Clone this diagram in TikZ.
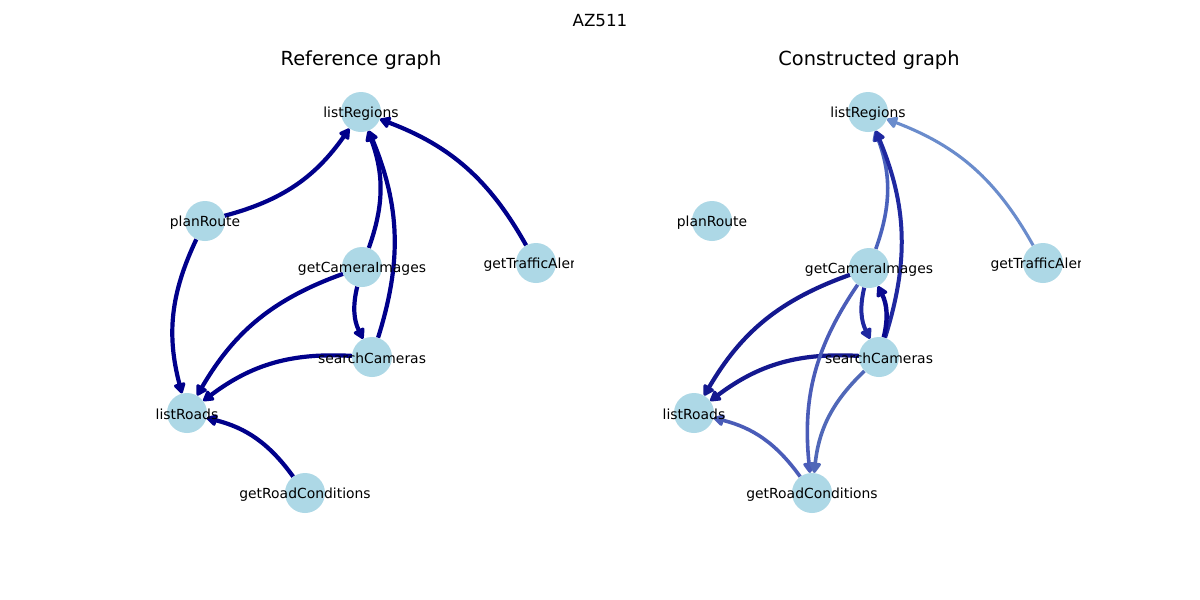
\documentclass[tikz,border=0pt]{standalone}
\usepackage{fontspec}
\setmainfont{DejaVu Sans}
\usetikzlibrary{arrows.meta}
\pgfdeclarelayer{bg}
\pgfsetlayers{bg,main}
\definecolor{nodeblue}{HTML}{ADD8E6}
\definecolor{refedge}{HTML}{00008B}
\definecolor{cA}{HTML}{6A8CCC}
\definecolor{cB}{HTML}{4A62BC}
\definecolor{cC}{HTML}{1F28A0}
\definecolor{cD}{HTML}{0A0A90}
\definecolor{cE}{HTML}{14188F}
\definecolor{cF}{HTML}{4A5CB8}
\definecolor{cG}{HTML}{5068B8}
\begin{document}
\begin{tikzpicture}[x=1pt,y=-1pt,
  vertex/.style={circle,fill=nodeblue,minimum size=40pt,inner sep=0pt},
  lbl/.style={font=\fontsize{13.9}{16}\selectfont,text=black,inner sep=0pt,yshift=-1.5pt},
  ttl/.style={font=\fontsize{19.4}{22}\selectfont,text=black,inner sep=0pt,yshift=-2pt},
  edge/.style={line width=#1, -{Triangle[length=12pt,width=13pt,round]}, bend right=20},
  edge/.default=4.2pt]
\useasboundingbox (0,0) rectangle (1200,600);
\node[font=\fontsize{16.7}{19}\selectfont,inner sep=0pt,yshift=-1pt] (sup) at (600,20) {AZ511};
\node[ttl] (t1) at (361,58) {Reference graph};
\node[ttl] (t2) at (869,58) {Constructed graph};
% left graph
\node[vertex] (LlR) at (361,112) {};
\node[vertex] (LpR) at (205,221) {};
\node[vertex] (LgC) at (362,267) {};
\node[vertex] (LgT) at (536,263) {};
\node[vertex] (LsC) at (372,357) {};
\node[vertex] (LlRd) at (187,413) {};
\node[vertex] (LgR) at (305,493) {};
% right graph
\node[vertex] (RlR) at (868,112) {};
\node[vertex] (RpR) at (712,221) {};
\node[vertex] (RgC) at (869,268) {};
\node[vertex] (RgT) at (1043,263) {};
\node[vertex] (RsC) at (879,357) {};
\node[vertex] (RlRd) at (694,413) {};
\node[vertex] (RgR) at (812,493) {};
\begin{pgfonlayer}{bg}
\fill[white] (0,0) rectangle (1200,600);
\begin{scope}[refedge]
\draw[edge] (LpR) to (LlR);
\draw[edge] (LpR) to (LlRd);
\draw[edge] (LgC) to (LlR);
\draw[edge] (LsC) to (LlR);
\draw[edge] (LgT) to (LlR);
\draw[edge] (LgC) to (LsC);
\draw[edge] (LgC) to (LlRd);
\draw[edge] (LsC) to (LlRd);
\draw[edge] (LgR) to (LlRd);
\end{scope}
\draw[edge=3.1pt,cA] (RgT) to (RlR);
\draw[edge=3.6pt,cB] (RgC) to (RlR);
\draw[edge=4pt,cC] (RsC) to (RlR);
\draw[edge=4pt,cC] (RgC) to (RsC);
\draw[edge=4.4pt,cD] (RsC) to (RgC);
\draw[edge=4.2pt,cE] (RgC) to (RlRd);
\draw[edge=4.2pt,cE] (RsC) to (RlRd);
\draw[edge=3.6pt,cF] (RgC) to (RgR);
\draw[edge=3.6pt,cG] (RsC) to (RgR);
\draw[edge=3.6pt,cF] (RgR) to (RlRd);
\end{pgfonlayer}
% labels
\node[lbl] at (LlR) {listRegions};
\node[lbl] at (LpR) {planRoute};
\node[lbl] at (LgC) {getCameraImages};
\node[lbl] at (LsC) {searchCameras};
\node[lbl] at (LlRd) {listRoads};
\node[lbl] at (LgR) {getRoadConditions};
\node[lbl] at (RlR) {listRegions};
\node[lbl] at (RpR) {planRoute};
\node[lbl] at (RgC) {getCameraImages};
\node[lbl] at (RsC) {searchCameras};
\node[lbl] at (RlRd) {listRoads};
\node[lbl] at (RgR) {getRoadConditions};
\begin{scope}
\clip (0,0) rectangle (573,600);
\node[lbl] at (LgT) {getTrafficAlerts};
\end{scope}
\begin{scope}
\clip (600,0) rectangle (1080,600);
\node[lbl] at (RgT) {getTrafficAlerts};
\end{scope}
\end{tikzpicture}
\end{document}
